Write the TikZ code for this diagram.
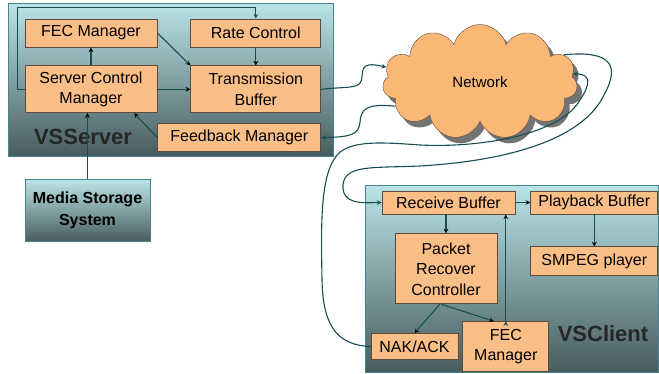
\documentclass[tikz,border=0pt]{standalone}
\usepackage{fontspec}
\setmainfont{Liberation Sans}
\usetikzlibrary{positioning,shapes.symbols,shadows}

\definecolor{boxorange}{RGB}{250,190,135}
\definecolor{cloudorange}{RGB}{250,183,118}
\definecolor{boxline}{RGB}{95,75,60}
\definecolor{linkteal}{RGB}{20,78,82}
\definecolor{paneltop}{RGB}{186,228,232}
\definecolor{panelbottom}{RGB}{72,92,94}
\definecolor{panelline}{RGB}{70,135,140}

\tikzset{
  block/.style={rectangle, draw=boxline, fill=boxorange, line width=0.8pt, inner sep=2pt, align=center, font=\fontsize{16}{20.5}\selectfont},
  panel/.style={rectangle, draw=panelline, line width=1pt, top color=paneltop, bottom color=panelbottom},
  media/.style={panel, align=center, font=\bfseries\fontsize{16}{22}\selectfont},
  tag/.style={font=\bfseries\fontsize{22}{24}\selectfont, text=black!85},
  link/.style={draw=linkteal, line width=1.1pt},
}

\begin{document}
\begin{tikzpicture}[->,>=stealth,x=1pt,y=-1pt]
                    \useasboundingbox (0,0) rectangle (659,373);

                    % the two machines
                    \node [panel, minimum width=325pt, minimum height=153pt](1) at (170.5,79.5){};
                    \node [panel, minimum width=293pt, minimum height=187pt](2) at (511.5,278.5){};

                    % server side
                    \node [block, minimum width=132pt, minimum height=28pt](11) at (91,33){FEC Manager};
                    \node [block, minimum width=130pt, minimum height=28pt](12) [right=33pt of 11]{Rate Control};
                    \node [block, minimum width=132pt, minimum height=47pt](13) [below=18pt of 11]{Server Control\\Manager};
                    \node [block, minimum width=130pt, minimum height=47pt](14) [below=18pt of 12]{Transmission\\Buffer};
                    \node [block, minimum width=163pt, minimum height=28pt](15) [below left=10pt and 0pt of 14.south east]{Feedback Manager};
                    \node [media, minimum width=125pt, minimum height=62pt](16) [below=66pt of 13, xshift=-3.5pt]{Media Storage\\System};
                    \node [tag](17) at (83,137){VSServer};

                    \node [cloud, cloud puffs=11, aspect=1.7, draw=boxline, fill=cloudorange, minimum width=195pt, minimum height=115pt,
                           general shadow={fill=black!55, shadow xshift=5pt, shadow yshift=-6pt},
                           font=\fontsize{15}{18}\selectfont](30) at (480,82){Network};

                    % client side
                    \node [block, minimum width=133pt, minimum height=23pt](21) at (448.5,202.5){Receive Buffer};
                    \node [block, minimum width=127pt, minimum height=23pt](22) [right=15pt of 21]{Playback Buffer};
                    \node [block, minimum width=102pt, minimum height=70pt](23) [below=19pt of 21, xshift=-2.5pt]{Packet\\Recover\\Controller};
                    \node [block, minimum width=127pt, minimum height=29pt](24) [below=32pt of 22]{SMPEG player};
                    \node [block, minimum width=87pt, minimum height=26pt](25) [below=29pt of 23, xshift=-31.5pt]{NAK/ACK};
                    \node [block, minimum width=86pt, minimum height=50pt](26) [right=4pt of 25]{FEC\\Manager};
                    \node [tag](27) at (603,334){VSClient};

                    \path[link]

                        (13) edge (11)
                        (11.east) edge (14.north west)
                        (12) edge (14)
                        (13) edge (14)
                        (15.west) edge (13.-29)
                        (16.north) edge (16.north |- 13.south)

                        (21) edge (22)
                        (22) edge (24)
                        (23.north |- 21.south) edge (23.north)
                        (23.260) edge (25.north)
                        (23.262) edge (26.115)
                        (26.north) edge (26.north |- 21.south)
                    ;

                    \draw[link] (13.west) -- ++(-7,0) |- ([yshift=11pt]12.north) -- (12.north);

                    % through the network
                    \draw[link] (14.east) .. controls (350,86) and (362,90) .. (362,76) .. controls (362,62) and (372,64) .. (30.171);
                    \draw[link] (30.196) .. controls (365,103) and (361,110) .. (360,122) .. controls (359,135) and (350,137) .. (15.east);
                    \draw[link] (30.18) .. controls (612,50) and (620,66) .. (604,95) .. controls (585,135) and (520,160) .. (420,166)
                                .. controls (370,168) and (345,165) .. (343,185) .. controls (342,204) and (360,203) .. (21.west);
                    \draw[link] (25.west) .. controls (340,345) and (323,330) .. (322,280) .. controls (321,220) and (320,170) .. (340,152)
                                .. controls (355,141) and (380,142) .. (420,145) .. controls (480,148) and (560,135) .. (580,100)
                                .. controls (590,85) and (592,74) .. (30.5);

                \end{tikzpicture}
\end{document}
